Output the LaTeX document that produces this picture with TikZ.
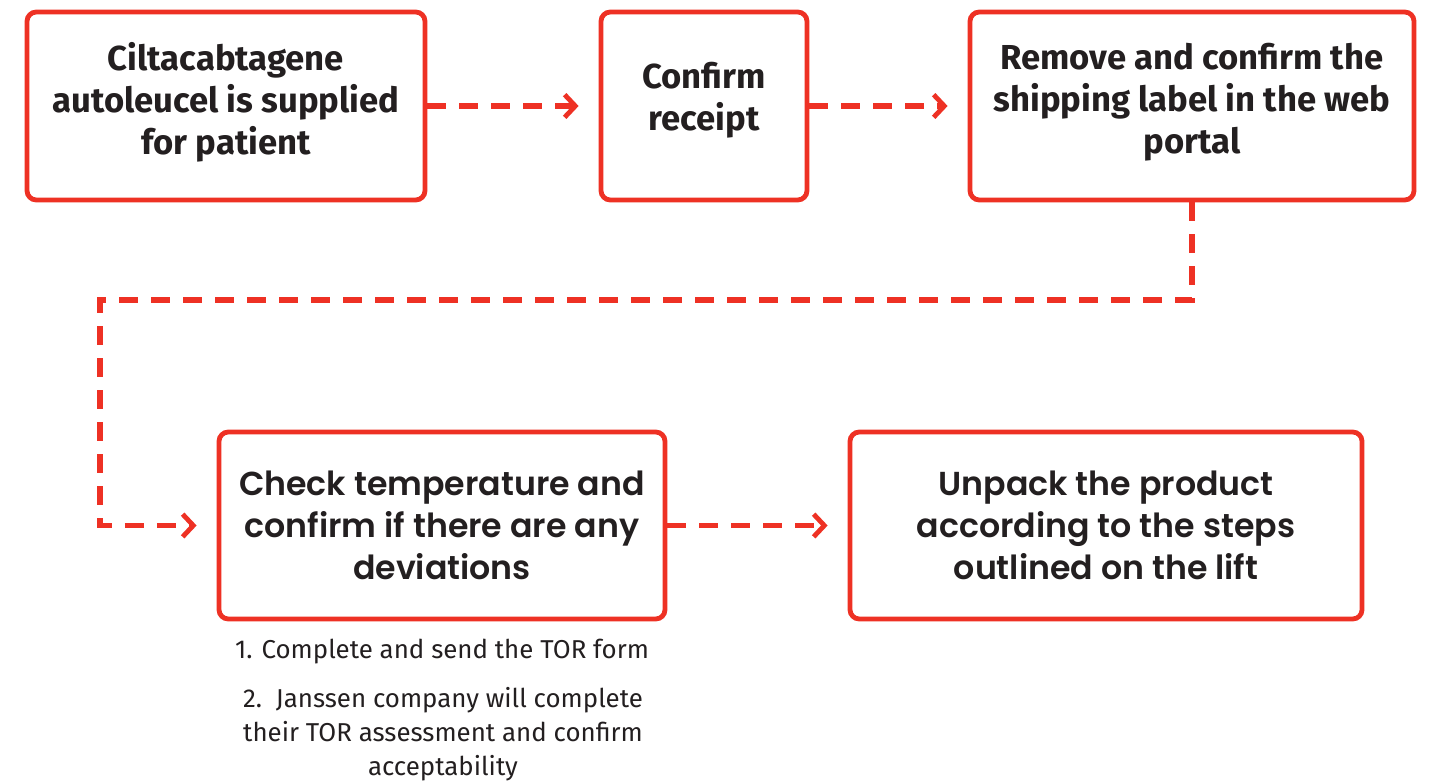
\documentclass[tikz,border=0pt]{standalone}
\usepackage{fontspec}
\setmainfont{Fira Sans}
\newfontfamily\boxfont{Fira Sans}[UprightFont={* Bold}]
\newfontfamily\widefont{Poppins}[UprightFont={* SemiBold}]
\usetikzlibrary{arrows.meta}
\definecolor{jred}{HTML}{EE3124}
\definecolor{jtext}{HTML}{231F20}
\tikzset{
  stepbox/.style={draw=jred, line width=3.6pt, rounded corners=7pt, align=center, text=jtext, inner sep=0pt},
  narrowtxt/.style={font=\boxfont\fontsize{26}{31.5}\selectfont},
  widetxt/.style={font=\widefont\fontsize{24.9}{31.5}\selectfont},
  conn/.style={draw=jred, line width=3.8pt, dash pattern=on 14pt off 10pt,
    -{Straight Barb[length=8pt,width=17pt,line width=3.6pt]}},
  note/.style={align=center, text=jtext, font=\fontsize{19.4}{25.5}\selectfont}
}
\begin{document}
\begin{tikzpicture}[x=0.75pt, y=-0.75pt]
\useasboundingbox (0,0) rectangle (1430,781);
\fill[white] (0,0) rectangle (1430,781);
\node[stepbox, minimum width=298.5pt, minimum height=141pt] (b1) at (226,106) {};
\node[stepbox, minimum width=154.5pt, minimum height=141pt] (b2) at (704,106) {};
\node[stepbox, minimum width=333pt, minimum height=141pt] (b3) at (1192,106) {};
\node[stepbox, minimum width=334.5pt, minimum height=140.25pt] (b4) at (442,525.5) {};
\node[stepbox, minimum width=384pt, minimum height=140.25pt] (b5) at (1106,525.5) {};
\node[narrowtxt, align=center, text=jtext] (t1) at (226,102) {Ciltacabtagene\\autoleucel is supplied\\for patient};
\node[narrowtxt, align=center, text=jtext] (t2) at (704,100) {Confirm\\receipt};
\node[narrowtxt, align=center, text=jtext] (t3) at (1192,102) {Remove and confirm the\\shipping label in the web\\portal};
\node[widetxt, align=center, text=jtext] (t4) at (442,525) {Check temperature and\\confirm if there are any\\deviations};
\node[widetxt, align=center, text=jtext] (t5) at (1106,525) {Unpack the product\\according to the steps\\outlined on the lift};
\node[note] (n1) at (442,652) {1. Complete and send the TOR form};
\node[note] (n2) at (443,734) {2.\ \ Janssen company will complete\\their TOR assessment and confirm\\acceptability};
\coordinate (c1) at (1192,300);
\coordinate (c2) at (100,300);
\coordinate (c3) at (100,525.5);
\draw[conn, shorten >=15pt] (b1.east) -- (b2.west);
\draw[conn, shorten >=15pt] (b2.east) -- (b3.west);
\draw[conn, shorten >=15pt] (b3.south) -- (c1) -- (c2) -- (c3) -- (b4.west);
\draw[conn, shorten >=15pt] (b4.east) -- (b5.west);
\end{tikzpicture}
\end{document}
